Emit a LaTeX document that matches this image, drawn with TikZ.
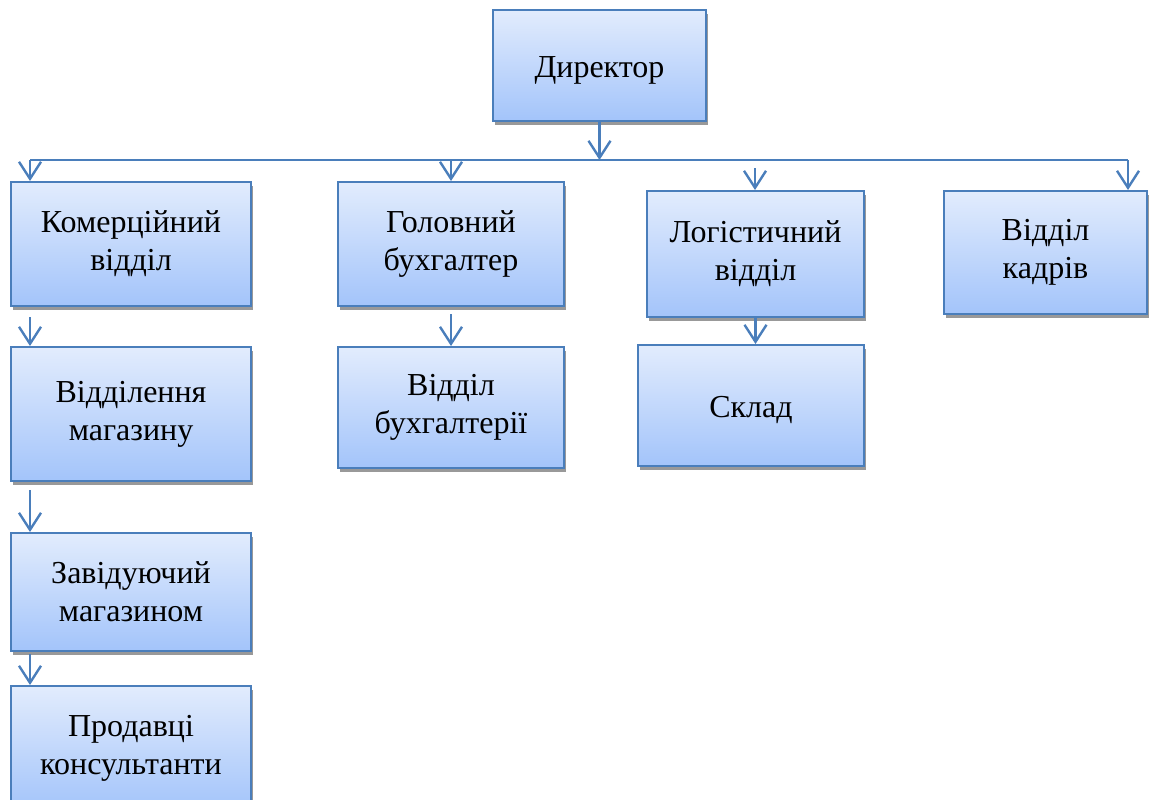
\documentclass[tikz,border=0pt]{standalone}
\usepackage{fontspec}
\setmainfont{Liberation Serif}
\usetikzlibrary{arrows.meta, positioning, shadows}

\definecolor{boxline}{RGB}{74,126,187}
\definecolor{boxtop}{RGB}{226,236,253}
\definecolor{boxbottom}{RGB}{163,196,250}

\begin{document}
\begin{tikzpicture}[
    x=0.5pt, y=-0.5pt,
    unit/.style={rectangle, draw=boxline, line width=1pt,
                 top color=boxtop, bottom color=boxbottom,
                 align=center, inner sep=0pt,
                 font=\fontsize{16}{19}\selectfont,
                 execute at begin node={\rule{0pt}{15pt}},
                 drop shadow={shadow xshift=1pt, shadow yshift=-2pt,
                              fill=black!40, opacity=1}},
    arrow/.style={-{Straight Barb[length=8.5pt, width=11pt]},
                  draw=boxline, line width=1.2pt}
]
  \useasboundingbox (0,0) rectangle (1149,799);

  % top level
  \node[unit, minimum width=106.5pt, minimum height=55.5pt] (dir)
    at (599.5,65.5) {Директор};

  % departments
  \node[unit, minimum width=120pt, minimum height=62pt] (kom)
    at (131,244) {Комерційний\\відділ};
  \node[unit, minimum width=113pt, minimum height=62pt] (gol)
    at (451,244) {Головний\\бухгалтер};
  \node[unit, minimum width=108.5pt, minimum height=63pt] (log)
    at (755.5,254) {Логістичний\\відділ};
  \node[unit, minimum width=101.5pt, minimum height=61.5pt] (kad)
    at (1045.5,252.5) {Відділ\\кадрів};

  % sub-units
  \node[unit, minimum width=120pt, minimum height=67pt, below=19.5pt of kom] (mag)
    {Відділення\\магазину};
  \node[unit, minimum width=120pt, minimum height=59pt, below=25pt of mag] (zav)
    {Завідуючий\\магазином};
  \node[unit, minimum width=120pt, minimum height=62pt, below=16.5pt of zav] (prod)
    {Продавці\\консультанти};
  \node[unit, minimum width=113pt, minimum height=60.5pt, below=19.5pt of gol] (buh)
    {Відділ\\бухгалтерії};
  \node[unit, minimum width=113pt, minimum height=60.5pt] (sklad)
    at (751,405.5) {Склад};

  \coordinate (barL) at (30,160);
  \coordinate (barR) at (1128,160);
  \coordinate (logtop) at (755,168);

  \draw[draw=boxline, line width=1.2pt] (barL) -- (barR);
  \draw[arrow] (dir.south) -- (dir.south |- barL);
  \draw[arrow] (barL) -- (barL |- kom.north);
  \draw[arrow] (gol.north |- barL) -- (gol.north);
  \draw[arrow] (logtop) -- (logtop |- log.north);
  \draw[arrow] (barR) -- (barR |- kad.north);

  \draw[arrow, shorten <=5pt] (kom.south -| barL) -- (mag.north -| barL);
  \draw[arrow, shorten <=4pt] (mag.south -| barL) -- (zav.north -| barL);
  \draw[arrow, shorten <=1pt] (zav.south -| barL) -- (prod.north -| barL);
  \draw[arrow, shorten <=3.5pt] (gol.south) -- (buh.north);
  \draw[arrow] (log.south) -- (log.south |- sklad.north);
\end{tikzpicture}
\end{document}
